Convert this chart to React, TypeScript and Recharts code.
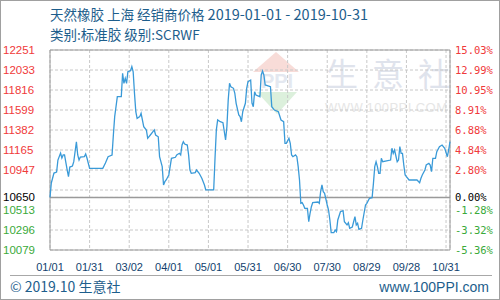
import React from 'react';
import { LineChart, Line, XAxis, YAxis, CartesianGrid, ReferenceLine, ReferenceArea } from 'recharts';

const days = [0,1,3,5,6,8,9,10,11,13,14,15,17,18,20,21,22,23,26,27,28,30,40,42,44,47,48,49,50,51,54,55,56,57,58,59,61,62,63,64,65,66,68,69,71,73,74,76,78,79,80,82,83,85,86,87,88,90,92,95,96,98,99,100,101,102,104,105,106,107,110,111,113,115,117,118,124,125,126,127,129,131,133,134,135,136,137,139,140,141,143,144,145,146,148,149,150,152,153,154,155,156,159,160,161,162,163,167,168,169,170,173,175,177,178,179,181,182,183,184,186,187,188,189,190,191,192,193,195,196,197,198,199,203,204,205,206,207,208,210,211,212,213,215,216,217,218,220,222,223,225,226,227,229,230,231,232,233,234,236,237,239,240,242,244,245,246,247,248,249,250,251,252,258,259,260,261,263,264,265,266,267,268,269,270,272,278,280,281,282,284,285,287,288,289,290,292,293,295,297,299,301,302,303];

const prices = [10650,10807,10915,10926,11056,11132,11078,11111,11111,10948,10875,10980,10991,11038,11255,11111,11056,11089,11092,11122,11078,10966,10966,11024,11092,11111,11328,11527,11635,11744,11744,11998,11889,11944,11889,12015,12026,12070,12015,11781,11581,11509,11527,11564,11418,11382,11292,11328,11364,11382,11328,11309,11092,10984,10785,10821,10839,10894,11075,11086,11111,11129,11111,11219,11255,11230,11219,11111,10948,10912,10919,10948,10912,10858,10785,10731,10731,11075,11382,11491,11472,11461,11274,11418,11708,11889,11852,11835,11781,11672,11545,11527,11472,11581,11672,11835,11907,11925,11675,11635,11798,11762,11744,11980,12023,11980,11871,11852,11635,11618,11599,11581,11491,11472,11238,11238,11292,11238,11111,11092,11111,11092,10984,10839,10586,10593,10568,10532,10532,10386,10478,10549,10593,10600,10586,10712,10785,10712,10695,10568,10513,10405,10267,10267,10296,10278,10405,10495,10506,10386,10351,10376,10315,10329,10386,10441,10351,10369,10304,10315,10405,10568,10586,10641,10647,10803,10984,11038,10984,10912,10912,11075,11038,11056,11184,11129,11165,11038,11056,11201,11129,11129,11002,10894,10875,10839,10839,10810,10858,10894,10948,11002,11021,11002,10930,11075,11075,11147,11201,11219,11184,11092,11165,11255];

const xTickDays = [0, 30, 60, 90, 120, 150, 180, 210, 240, 270, 300];
const xTickLabels = ['01/01', '01/31', '03/02', '04/01', '05/01', '05/31', '06/30', '07/30', '08/29', '09/28', '10/31'];

const gridValues = [12251, 12033.8, 11816.6, 11599.4, 11382.2, 11165, 10947.8, 10730.6, 10513.4, 10296.2, 10079];
const leftTickLabels = ['12251', '12033', '11816', '11599', '11382', '11165', '10947', '', '10513', '10296', '10079'];
const rightTickLabels = ['15.03%', '12.99%', '10.95%', '8.91%', '6.88%', '4.84%', '2.80%', '', '-1.28%', '-3.32%', '-5.36%'];
const baseValue = 10650;
const baseLeftLabel = '10650';
const baseRightLabel = '0.00%';

const titleCjk = '天然橡胶 上海 经销商价格 ';
const titleDates = '2019-01-01 - 2019-10-31';
const titleLine2 = '类别:标准胶 级别:SCRWF';
const footerLeft = '© 2019.10 生意社';
const footerRight = 'www.100PPI.com';
const watermarkBig = '生意社';
const watermarkUrl = 'WWW.100PPI.COM';
const watermarkLogo = 'PPI';

const data = days.map((d, i) => ({ day: d, price: prices[i] }));
const yTicks = [...gridValues, baseValue];

const RED = '#f03a3a';
const GREEN = '#3aaa3a';
const BLUE = '#1d5e8c';

const colorFor = (v: number) => (v === baseValue ? '#000' : v > baseValue ? RED : GREEN);

const LeftTick = (props: any) => {
  const { y, payload } = props;
  const v = payload.value;
  const label = v === baseValue ? baseLeftLabel : leftTickLabels[gridValues.indexOf(v)];
  if (!label) return null;
  return (
    <text x={3} y={y} dy={4} textAnchor="start" fontSize={11.5} fontFamily="'Liberation Sans', Arial, sans-serif" fill={colorFor(v)}>
      {label}
    </text>
  );
};

const RightTick = (props: any) => {
  const { y, payload } = props;
  const v = payload.value;
  const label = v === baseValue ? baseRightLabel : rightTickLabels[gridValues.indexOf(v)];
  if (!label) return null;
  return (
    <text x={455} y={y} dy={4} textAnchor="start" fontSize={10.5} fontFamily="'DejaVu Sans Mono', monospace" fill={colorFor(v)}>
      {label}
    </text>
  );
};

const BottomTick = (props: any) => {
  const { x, payload } = props;
  const idx = xTickDays.indexOf(payload.value);
  return (
    <text x={x} y={271} textAnchor="middle" fontSize={11} fontFamily="'Liberation Sans', Arial, sans-serif" fill="#123f6e">
      {xTickLabels[idx]}
    </text>
  );
};

export default function App() {
  return (
    <div style={{ position: 'absolute', left: 0, top: 0, width: 500, height: 300, background: '#fff', boxSizing: 'border-box', border: '1px solid #a0a0a0', overflow: 'hidden' }}>
      <svg width={500} height={300} style={{ position: 'absolute', left: -1, top: -1 }}>
        <polygon points="253,72 276,52 299,72" fill="#f8dcd8" />
        <text x={277} y={88} textAnchor="middle" fontSize={20} fontWeight="bold" fontFamily="'Liberation Sans', Arial, sans-serif" fill="#e4e8f0">{watermarkLogo}</text>
        <polygon points="257,92 297,92 277,114" fill="#dcf0dc" />
        <text x={326} y={86} fontSize={32} textLength={124} lengthAdjust="spacing" fontFamily="'Noto Sans CJK SC', sans-serif" fill="#dfe3ec">{watermarkBig}</text>
        <text x={325} y={112} fontSize={13} textLength={122} lengthAdjust="spacing" fontFamily="'Liberation Sans', Arial, sans-serif" fill="#e6e6e6">{watermarkUrl}</text>
        <text x={50} y={20} fontSize={13.5} fontFamily="'Noto Sans CJK SC', sans-serif" fill={BLUE}>
          {titleCjk}
          <tspan fontSize={14.5}>{titleDates}</tspan>
        </text>
        <text x={50} y={40} fontSize={13.5} fontFamily="'Noto Sans CJK SC', sans-serif" fill={BLUE}>{titleLine2}</text>
        <line x1={10} y1={275.5} x2={492} y2={275.5} stroke="#a8a8a8" strokeWidth={1} />
        <text x={10} y={292} fontSize={14} fontFamily="'Noto Sans CJK SC', sans-serif" fill={BLUE}>{footerLeft}</text>
        <text x={489} y={292} textAnchor="end" fontSize={14} fontFamily="'Liberation Sans', Arial, sans-serif" fill={BLUE}>{footerRight}</text>
      </svg>
      <div style={{ position: 'absolute', left: -1, top: -1 }}>
        <LineChart width={500} height={300} data={data} margin={{ top: 50, right: 0, bottom: 0, left: 0 }}>
          <CartesianGrid stroke="#c8c8c8" strokeDasharray="3 2" />
          <XAxis type="number" dataKey="day" domain={[0, 303]} ticks={xTickDays} axisLine={false} tickLine={false} tick={<BottomTick />} height={50} interval={0} />
          <YAxis yAxisId={0} domain={[10079, 12251]} ticks={yTicks} axisLine={false} tickLine={false} tick={<LeftTick />} width={50} interval={0} allowDataOverflow />
          <YAxis yAxisId="right" orientation="right" domain={[10079, 12251]} ticks={yTicks} axisLine={false} tickLine={false} tick={<RightTick />} width={50} interval={0} allowDataOverflow />
          <ReferenceArea x1={0} x2={303} y1={10079} y2={12251} fill="none" stroke="#9a9a9a" strokeWidth={1} />
          <ReferenceLine y={baseValue} stroke="#9a9a9a" strokeWidth={1.5} />
          <Line yAxisId="right" type="linear" dataKey="price" stroke="none" strokeWidth={0} dot={false} activeDot={false} isAnimationActive={false} />
          <Line type="linear" dataKey="price" stroke="#3a9ad8" strokeWidth={1.3} dot={false} isAnimationActive={false} />
        </LineChart>
      </div>
    </div>
  );
}
